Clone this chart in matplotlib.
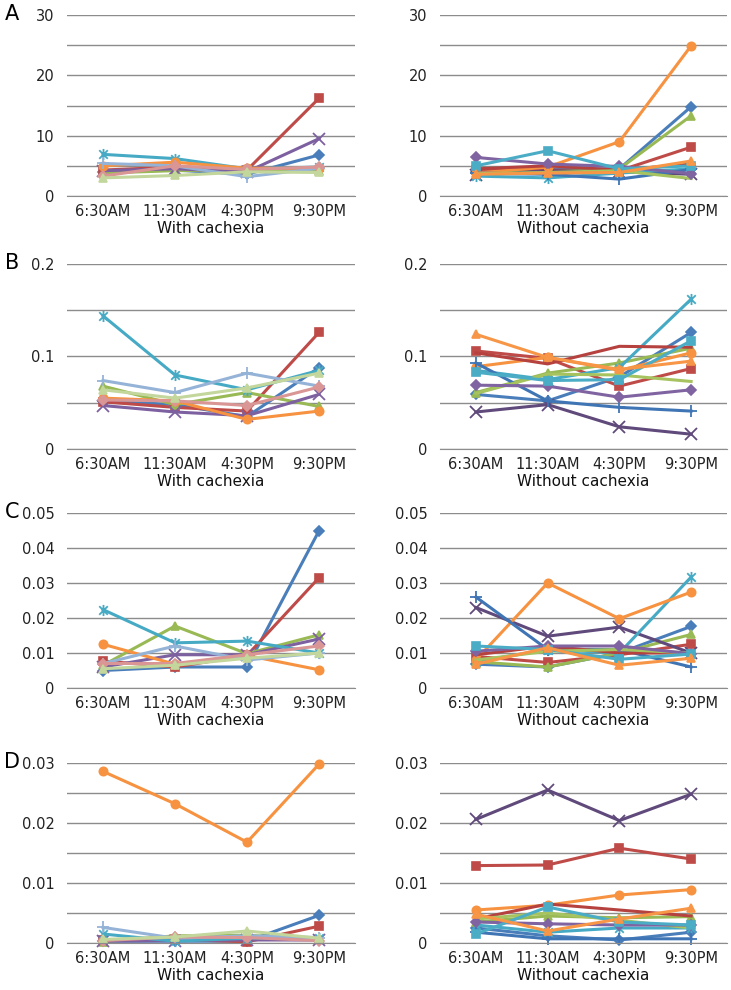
import numpy as np
import matplotlib
matplotlib.use('Agg')
import matplotlib.pyplot as plt
from matplotlib.path import Path

times = ['6:30AM', '11:30AM', '4:30PM', '9:30PM']

# with cachexia (9 series)
A_with = [[4.0, 4.3, 3.6, 6.8], [4.3, 4.8, 4.3, 16.2], [3.8, 4.2, 4.3, 4.2],
          [4.2, 4.5, 4.0, 9.5], [6.9, 6.2, 4.5, 4.8], [5.0, 5.6, 4.6, 4.6],
          [5.4, 5.0, 3.2, 4.6], [3.3, 5.0, 4.4, 4.8], [3.0, 3.4, 4.0, 3.9]]
B_with = [[0.052, 0.048, 0.035, 0.088], [0.051, 0.045, 0.041, 0.126], [0.068, 0.048, 0.061, 0.046],
          [0.047, 0.040, 0.036, 0.059], [0.144, 0.080, 0.064, 0.085], [0.055, 0.052, 0.032, 0.041],
          [0.074, 0.061, 0.082, 0.068], [0.053, 0.052, 0.047, 0.067], [0.064, 0.055, 0.066, 0.082]]
C_with = [[0.0050, 0.0060, 0.0060, 0.0449], [0.0077, 0.0060, 0.0093, 0.0315], [0.0065, 0.0177, 0.0098, 0.0152],
          [0.0060, 0.0095, 0.0095, 0.0140], [0.0224, 0.0129, 0.0134, 0.0100], [0.0125, 0.0068, 0.0093, 0.0052],
          [0.0070, 0.0120, 0.0080, 0.0100], [0.0070, 0.0070, 0.0095, 0.0120], [0.0055, 0.0065, 0.0085, 0.0100]]
D_with = [[0.0003, 0.0003, 0.0003, 0.0046], [0.0005, 0.0006, 0.0002, 0.0028], [0.0002, 0.0012, 0.0013, 0.0006],
          [0.0003, 0.0004, 0.0005, 0.0005], [0.0015, 0.0003, 0.0008, 0.0009], [0.0286, 0.0232, 0.0168, 0.0298],
          [0.0026, 0.0008, 0.0012, 0.0009], [0.0004, 0.0010, 0.0009, 0.0004], [0.0006, 0.0010, 0.0020, 0.0008]]

# without cachexia (12 series)
A_without = [[4.0, 4.5, 4.5, 14.8], [4.3, 4.3, 4.2, 8.1], [3.8, 4.0, 4.5, 13.3],
             [3.4, 4.2, 4.0, 3.6], [3.3, 3.0, 3.8, 4.5], [3.8, 4.8, 9.0, 24.9],
             [3.8, 3.6, 2.8, 4.4], [4.5, 5.0, 4.3, 5.3], [3.7, 3.9, 4.2, 2.9],
             [6.4, 5.3, 4.9, 3.7], [5.0, 7.5, 4.5, 5.0], [3.6, 3.8, 3.9, 5.8]]
B_without = [[0.059, 0.052, 0.078, 0.126], [0.106, 0.098, 0.068, 0.087], [0.061, 0.082, 0.093, 0.109],
             [0.040, 0.048, 0.024, 0.016], [0.085, 0.075, 0.088, 0.162], [0.089, 0.099, 0.085, 0.104],
             [0.093, 0.052, 0.045, 0.041], [0.104, 0.092, 0.111, 0.110], [0.060, 0.081, 0.080, 0.073],
             [0.069, 0.068, 0.056, 0.064], [0.083, 0.074, 0.075, 0.117], [0.124, 0.099, 0.086, 0.095]]
C_without = [[0.0068, 0.0060, 0.0100, 0.0176], [0.0090, 0.0073, 0.0095, 0.0125], [0.0075, 0.0060, 0.0100, 0.0153],
             [0.0230, 0.0148, 0.0174, 0.0100], [0.0075, 0.0110, 0.0100, 0.0317], [0.0080, 0.0300, 0.0198, 0.0274],
             [0.0260, 0.0110, 0.0110, 0.0060], [0.0095, 0.0120, 0.0100, 0.0100], [0.0080, 0.0105, 0.0110, 0.0100],
             [0.0105, 0.0120, 0.0120, 0.0098], [0.0120, 0.0110, 0.0082, 0.0097], [0.0068, 0.0115, 0.0065, 0.0085]]
D_without = [[0.0025, 0.0012, 0.0005, 0.0018], [0.0129, 0.0130, 0.0158, 0.0140], [0.0035, 0.0045, 0.0042, 0.0044],
             [0.0206, 0.0255, 0.0204, 0.0248], [0.0030, 0.0018, 0.0025, 0.0025], [0.0055, 0.0063, 0.0080, 0.0089],
             [0.0018, 0.0007, 0.0007, 0.0007], [0.0040, 0.0065, 0.0055, 0.0045], [0.0040, 0.0050, 0.0038, 0.0025],
             [0.0035, 0.0032, 0.0030, 0.0030], [0.0015, 0.0060, 0.0035, 0.0030], [0.0048, 0.0020, 0.0040, 0.0058]]

# excel style star: x with a vertical bar
star = Path([(-1, -1), (1, 1), (-1, 1), (1, -1), (0, -1.3), (0, 1.3)],
            [Path.MOVETO, Path.LINETO, Path.MOVETO, Path.LINETO, Path.MOVETO, Path.LINETO])

style_with = [('#4A7EBB', 'D'), ('#BE4B48', 's'), ('#98B954', '^'), ('#7D60A0', 'x'),
              ('#46AAC5', star), ('#F69240', 'o'), ('#95B3D7', '+'), ('#D99694', 'D'), ('#C3D69B', '^')]
style_without = [('#4A7EBB', 'D'), ('#BE4B48', 's'), ('#98B954', '^'), ('#604A7B', 'x'),
                 ('#46AAC5', star), ('#F69240', 'o'), ('#3F75B5', '+'), ('#B5423F', 'None'), ('#A6C35F', 'None'),
                 ('#8064A2', 'D'), ('#4BACC6', 's'), ('#F79646', '^')]

rows = [('A', A_with, A_without, 30, 5, 10, 15, 196),
        ('B', B_with, B_without, 0.2, 0.05, 0.1, 264, 449),
        ('C', C_with, C_without, 0.05, 0.01, 0.01, 513, 688),
        ('D', D_with, D_without, 0.03, 0.005, 0.01, 763, 943)]

W, H = 731, 990
fig = plt.figure(figsize=(W / 100, H / 100), dpi=100)
plt.rcParams['font.family'] = 'DejaVu Sans'


def fmt(v):
    if v == 0:
        return '0'
    return ('%g' % v)


for letter, dw, dwo, top, grid, lab, ytop, ybot in rows:
    for x0, x1, data, styles, xl in [(67, 355, dw, style_with, 'With cachexia'),
                                     (440, 727, dwo, style_without, 'Without cachexia')]:
        ax = fig.add_axes([x0 / W, 1 - ybot / H, (x1 - x0) / W, (ybot - ytop) / H])
        for vals, (c, m) in zip(data, styles):
            ms = 6
            mew = 1.2
            if isinstance(m, Path) or m in ('x', '+'):
                ms = 8
                mew = 1.3
            elif m == 'D':
                ms = 5.5
            ax.plot(range(4), vals, color=c, lw=2.2, marker=m, ms=ms, mew=mew,
                    mec=c, mfc=c, clip_on=False)
        ticks = np.arange(0, top + grid / 2, grid)
        ax.set_yticks(ticks)
        labels = []
        for t in ticks:
            k = round(t / lab, 6)
            labels.append(fmt(round(t, 6)) if abs(k - round(k)) < 1e-6 else '')
        ax.set_yticklabels(labels)
        ax.set_ylim(0, top)
        ax.set_xlim(-0.5, 3.5)
        ax.set_xticks(range(4))
        ax.set_xticklabels(times)
        ax.grid(axis='y', color='#8C8C8C', lw=1)
        ax.set_axisbelow(True)
        for s in ['left', 'right', 'top']:
            ax.spines[s].set_visible(False)
        ax.spines['bottom'].set_color('#8C8C8C')
        ax.tick_params(length=0, labelsize=10.5, colors='#222222')
        ax.tick_params(axis='y', pad=9)
        ax.tick_params(axis='x', pad=6)
        ax.set_xlabel(xl, fontsize=11, labelpad=1, color='#111111')
    fig.text(12 / W, 1 - (ytop - 1) / H, letter, fontsize=15, ha='center', va='center')

fig.savefig('out.png', dpi=100)
